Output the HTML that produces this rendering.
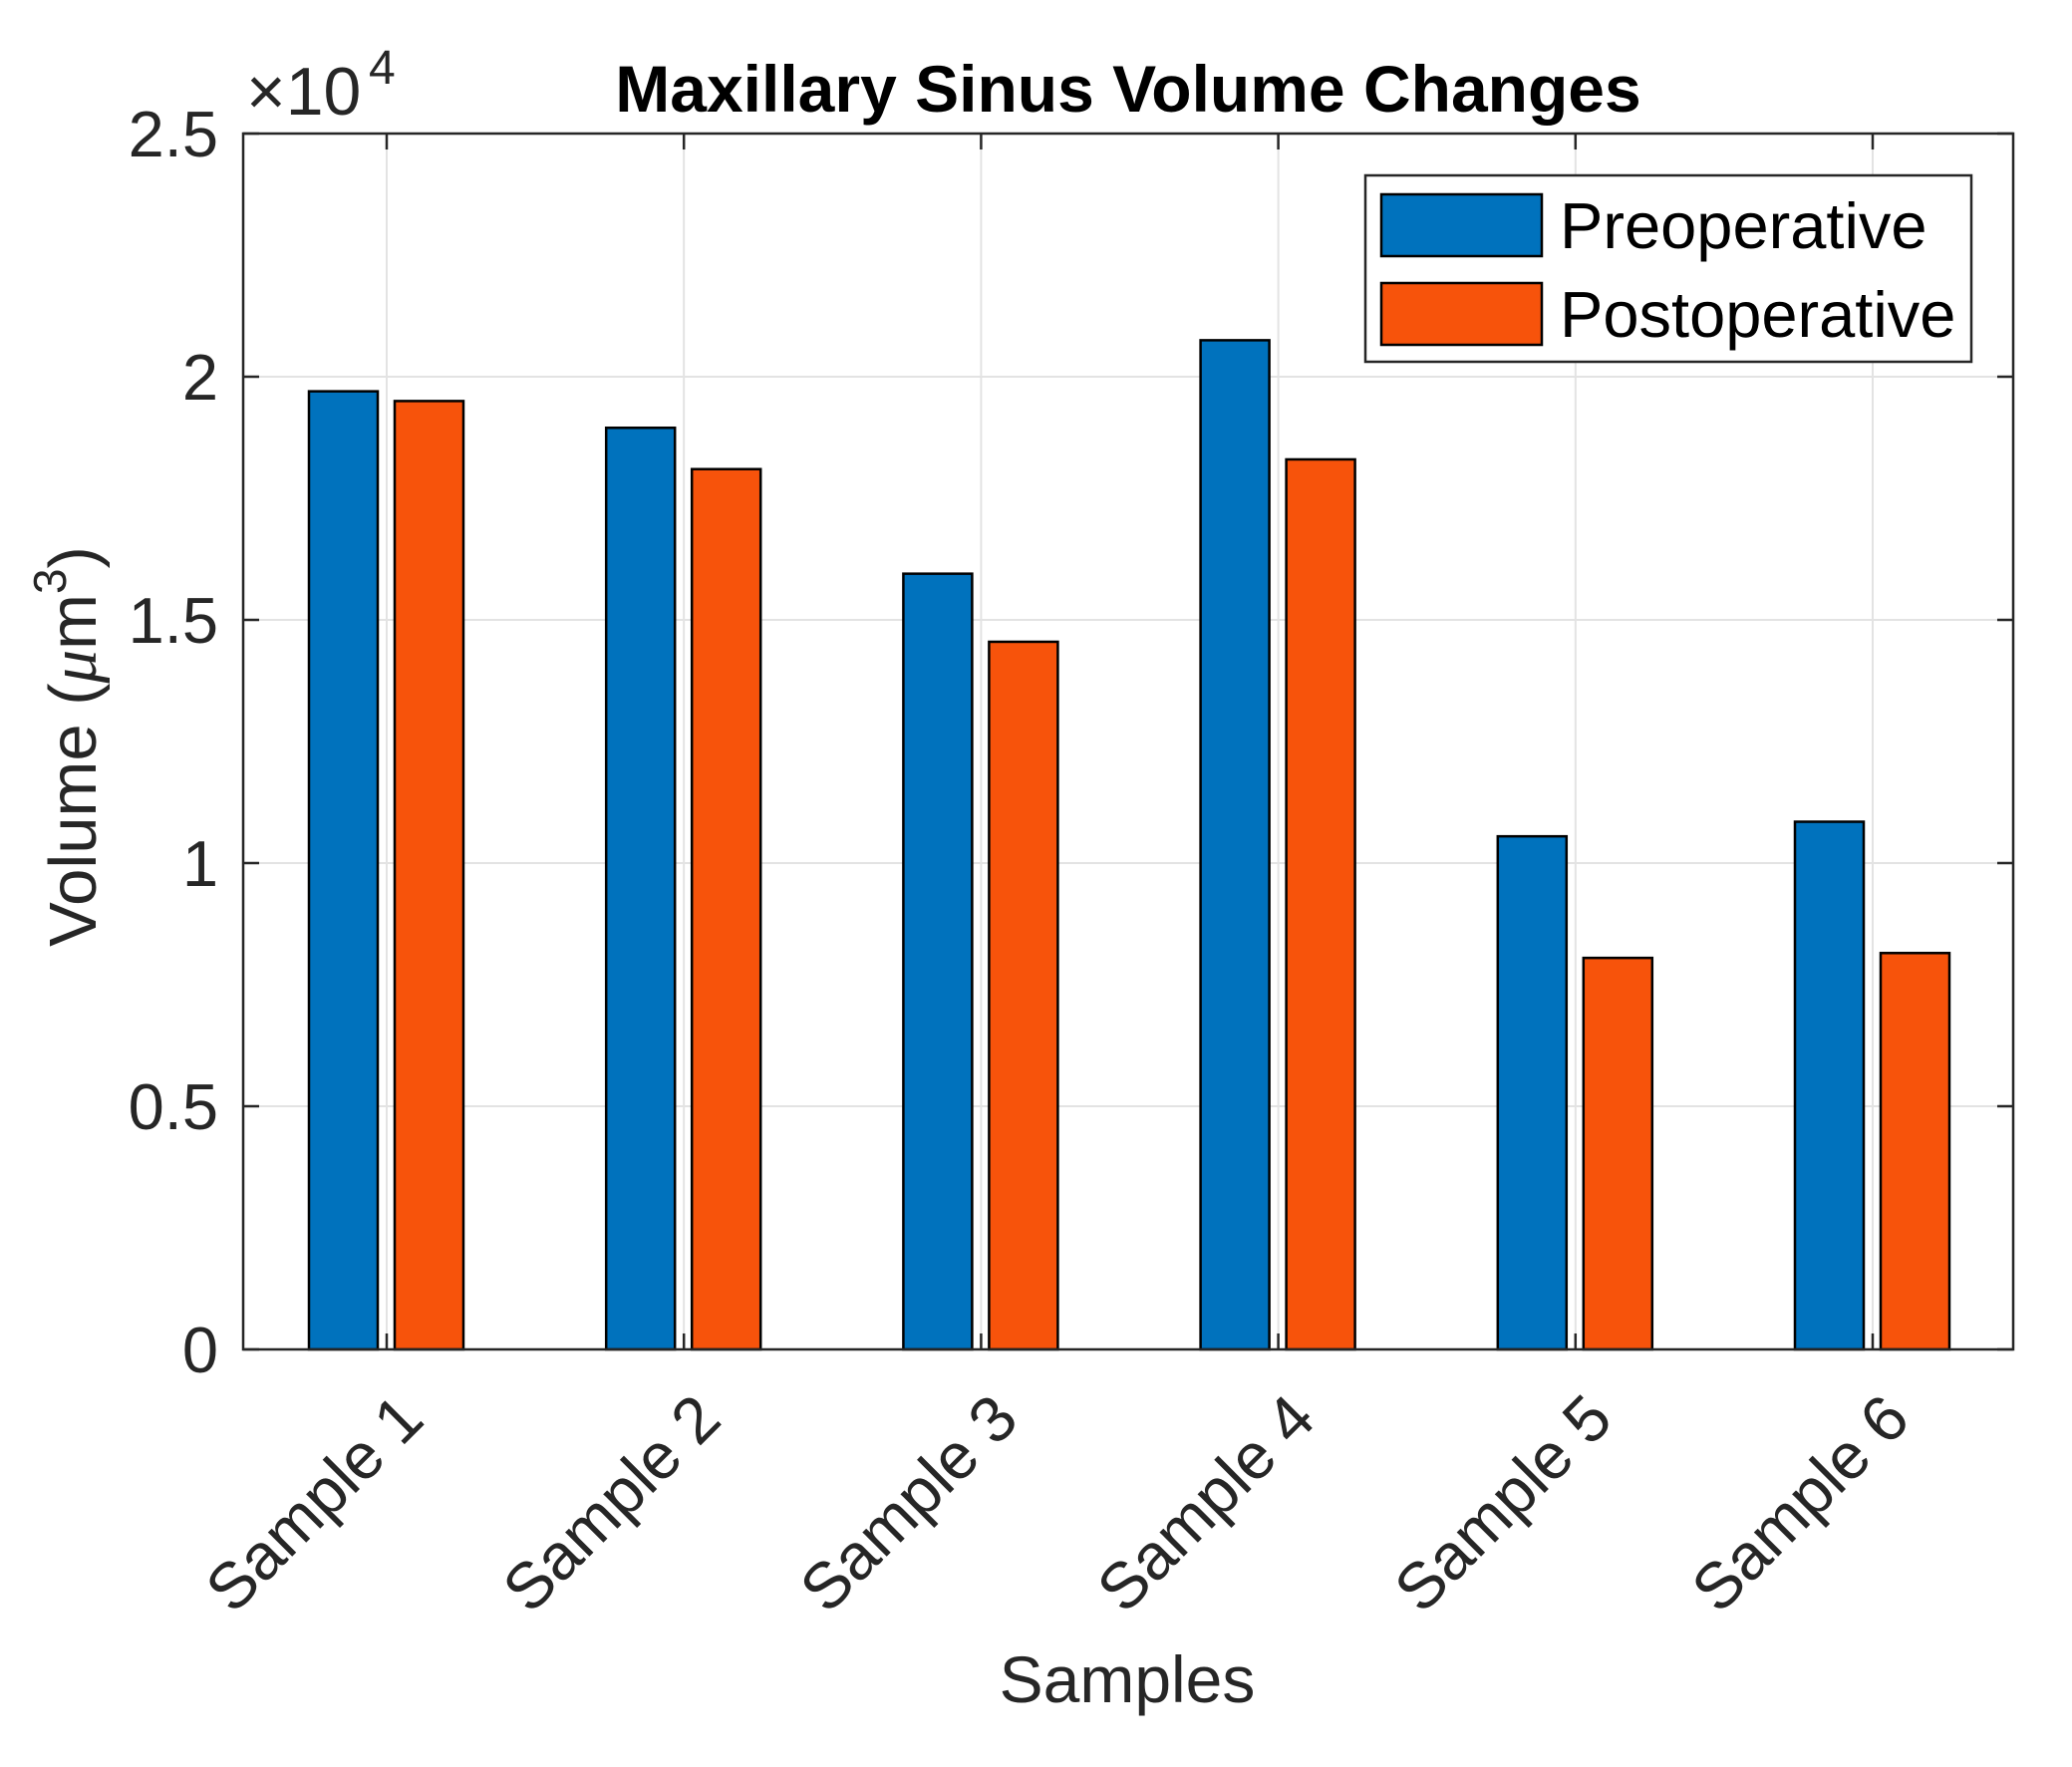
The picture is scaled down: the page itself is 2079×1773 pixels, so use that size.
<!DOCTYPE html>
<html><head><meta charset="utf-8"><style>
html,body{margin:0;padding:0;background:#fff;}
svg{display:block;font-family:"Liberation Sans",Arial,sans-serif;}
</style></head><body>
<svg id="chart" width="2079" height="1773" viewBox="0 0 2079 1773" xmlns="http://www.w3.org/2000/svg">
<rect width="2079" height="1773" fill="#fff"/>
<g id="grid"></g>
<g id="bars"></g>
<g id="axes"></g>
</svg>
<script>
const categories = ["Sample 1","Sample 2","Sample 3","Sample 4","Sample 5","Sample 6"];
const preoperative = [19700, 18950, 15950, 20750, 10550, 10850];
const postoperative = [19500, 18100, 14550, 18300, 8050, 8150];
const yTicks = [0, 5000, 10000, 15000, 20000, 25000];
const yTickLabels = ["0","0.5","1","1.5","2","2.5"];

const NS="http://www.w3.org/2000/svg";
const L=244,R=2020,T=134,B=1354;
const yMax=25000;
function yS(v){return B-(v/yMax)*(B-T);}
const step=298.2;
function xS(i){return 388+step*i;}
function mk(tag,attrs,parent,text){const e=document.createElementNS(NS,tag);for(const k in attrs)e.setAttribute(k,attrs[k]);if(text!==undefined)e.textContent=text;parent.appendChild(e);return e;}
const grid=document.getElementById('grid'),bars=document.getElementById('bars'),axes=document.getElementById('axes');

yTicks.forEach((t,i)=>{
  const y=yS(t);
  if(t>0&&t<yMax){const g=mk('line',{x1:L,x2:R,y1:y,y2:y,stroke:'#e3e3e3','stroke-width':2},grid);
  
  }
  const tk=mk('path',{d:`M${L} ${y}H${L+16}M${R} ${y}H${R-16}`,stroke:'#262626','stroke-width':2.5},axes);
  
  
  const lb=mk('text',{x:219,y:y+23,'text-anchor':'end','font-size':65,fill:'#262626'},axes,yTickLabels[i]);
  
  
});
categories.forEach((c,i)=>{
  const x=xS(i);
  const g=mk('line',{x1:x,x2:x,y1:T,y2:B,stroke:'#e3e3e3','stroke-width':2},grid);
  
  
  const tk=mk('path',{d:`M${x} ${B}V${B-16}M${x} ${T}V${T+16}`,stroke:'#262626','stroke-width':2.5},axes);
  
  
  const lb=mk('text',{x:0,y:0,'text-anchor':'end','font-size':65,fill:'#262626',transform:`translate(${x+40},${1427}) rotate(-45)`},axes,c);
  
  
  const bw=69;
  const b1=mk('rect',{x:x-78,y:yS(preoperative[i]),width:bw,height:B-yS(preoperative[i]),fill:'#0072bd',stroke:'#000','stroke-width':2.5},bars);
  
  
  const b2=mk('rect',{x:x+8,y:yS(postoperative[i]),width:bw,height:B-yS(postoperative[i]),fill:'#f7530b',stroke:'#000','stroke-width':2.5},bars);
  
  
});
const fr=mk('rect',{x:L,y:T,width:R-L,height:B-T,fill:'none',stroke:'#262626','stroke-width':2.5},axes);


const ex=mk('text',{x:247,y:115,'font-size':68,fill:'#262626'},axes,'\u00d710');


const ex2=mk('text',{x:370,y:84,'font-size':48,fill:'#262626'},axes,'4');


const ti=mk('text',{x:1132,y:112,'text-anchor':'middle','font-size':66,'font-weight':'bold',fill:'#000'},axes,'Maxillary Sinus Volume Changes');


const yl=mk('text',{x:0,y:0,'text-anchor':'middle','font-size':67,fill:'#262626',transform:'translate(96,749) rotate(-90)'},axes);


yl.innerHTML='Volume (<tspan font-family="Liberation Serif" font-style="italic">\u03bc</tspan>m<tspan font-size="46" dy="-30">3</tspan><tspan dy="30">)</tspan>';
const xl=mk('text',{x:1131,y:1708,'text-anchor':'middle','font-size':66,fill:'#262626'},axes,'Samples');


const lg=mk('g',{},axes);


mk('rect',{x:1370,y:176,width:608,height:187,fill:'#fff',stroke:'#262626','stroke-width':2.5},lg);
[['Preoperative','#0072bd',195],['Postoperative','#f7530b',284]].forEach(([n,c,y])=>{
  const sw=mk('rect',{x:1386,y:y,width:161,height:62,fill:c,stroke:'#000','stroke-width':2.5},lg);
  
  
  const t=mk('text',{x:1565,y:y+54,'font-size':65,fill:'#000'},lg,n);
  
  
});
</script>
</body></html>
